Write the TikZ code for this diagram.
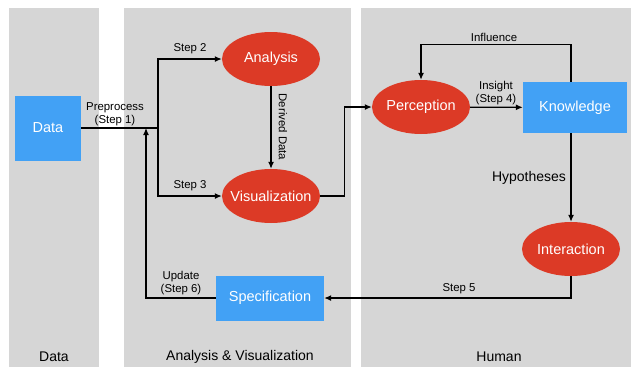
\documentclass[tikz,border=0pt]{standalone}
\usepackage{fontspec}
\setmainfont{Liberation Sans}
\usetikzlibrary{shapes.geometric,arrows.meta}
\definecolor{panelgray}{RGB}{214,214,214}
\definecolor{procred}{RGB}{220,58,38}
\definecolor{boxblue}{RGB}{66,161,245}

\begin{document}
\begin{tikzpicture}[x=1pt,y=-1pt,
    proc/.style={ellipse, fill=procred, text=white, minimum width=98pt, minimum height=54pt, inner xsep=-7pt, inner ysep=0pt, font=\fontsize{14.5}{17}\selectfont},
    blk/.style={rectangle, fill=boxblue, text=white, inner sep=0pt, font=\fontsize{14.5}{17}\selectfont},
    lbl/.style={font=\fontsize{11.4}{13}\selectfont, align=center},
    ttl/.style={font=\fontsize{14}{16}\selectfont},
    wire/.style={line width=1.2pt},
    flow/.style={line width=1.2pt, -{Latex[length=7pt,width=6pt]}}]
    \useasboundingbox (0,0) rectangle (632,367);

    % panels
    \fill[panelgray] (9,8) rectangle (99,367);
    \fill[panelgray] (124,8) rectangle (351,367);
    \fill[panelgray] (361,8) rectangle (631,367);

    \node[ttl] (tdata) at (54,357) {Data};
    \node[ttl] (tana) at (240,357) {Analysis \& Visualization};
    \node[ttl] (thum) at (499,357) {Human};

    % boxes
    \node[blk, minimum width=66pt, minimum height=65pt] (data) at (48,128) {Data};
    \node[proc] (analysis) at (271,59) {Analysis};
    \node[proc] (vis) at (271,196) {Visualization};
    \node[proc] (perc) at (421,107) {Perception};
    \node[blk, minimum width=104pt, minimum height=51pt] (know) at (575,107.5) {Knowledge};
    \node[proc] (inter) at (571,249) {Interaction};
    \node[blk, minimum width=108pt, minimum height=45pt] (spec) at (270,298) {Specification};

    \coordinate (split) at (158,128);
    \coordinate (merge) at (146,128);

    % connectors
    \draw[wire] (data) -- (split);
    \draw[flow] (split) |- (analysis);
    \draw[flow] (split) |- (vis);
    \draw[flow] (analysis) -- (vis);
    \draw[flow] (vis.east) -- ++(24,0) |- (perc);
    \draw[flow] (perc) -- (know);
    \draw[flow] (inter |- know.north) -- ++(0,-37) -| (perc);
    \draw[flow] (inter |- know.south) -- (inter);
    \draw[flow] (inter) |- (spec);
    \draw[flow] (spec) -| (merge);

    % labels
    \node[lbl] (lpre) at (115,114) {Preprocess\\(Step 1)};
    \node[lbl] (lstep2) at (190,49) {Step 2};
    \node[lbl] (lstep3) at (190,186) {Step 3};
    \node[lbl, rotate=-90] (lderived) at (283,127) {Derived Data};
    \node[lbl] (linsight) at (496,93) {Insight\\(Step 4)};
    \node[lbl] (linfl) at (494,37) {Influence};
    \node[ttl] (lhyp) at (529,178) {Hypotheses};
    \node[lbl] (lstep5) at (459,289) {Step 5};
    \node[lbl] (lupd) at (181,283) {Update\\(Step 6)};
\end{tikzpicture}
\end{document}
